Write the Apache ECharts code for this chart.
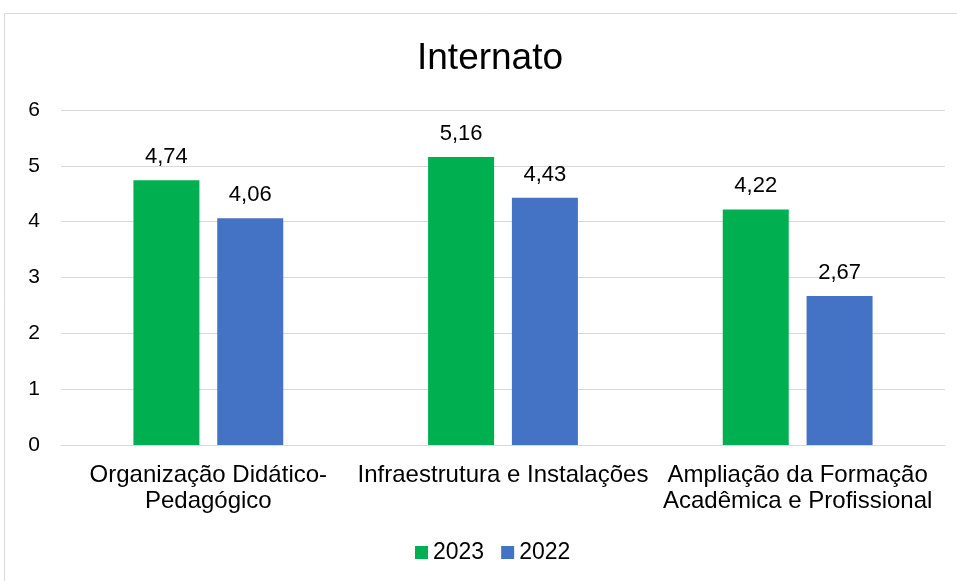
<!DOCTYPE html>
<html>
<head>
<meta charset="utf-8">
<script src="https://cdn.jsdelivr.net/npm/echarts@6/dist/echarts.min.js"></script>
<style>html,body{margin:0;padding:0;background:#fff}#c{width:957px;height:581px}</style>
</head>
<body>
<div id="c"></div>
<script>
const categories = ["Organização Didático-\nPedagógico", "Infraestrutura e Instalações", "Ampliação da Formação\nAcadêmica e Profissional"];
const values2023 = [4.74, 5.16, 4.22];
const values2022 = [4.06, 4.43, 2.67];
const seriesNames = ["2023", "2022"];
const yTicks = [0, 1, 2, 3, 4, 5, 6];

const font = "'Liberation Sans', Arial, sans-serif";
const chart = echarts.init(document.getElementById('c'), null, {renderer: 'canvas'});
const fmt = p => p.value.toFixed(2).replace('.', ',');
chart.setOption({
  animation: false,
  backgroundColor: '#fff',
  graphic: [{
    type: 'rect', shape: {x: 4.5, y: 13.5, width: 960, height: 580},
    style: {fill: 'none', stroke: '#D9D9D9', lineWidth: 1}, silent: true
  }],
  title: {
    text: 'Internato', left: 412, top: 35,
    textStyle: {fontFamily: font, fontSize: 37, fontWeight: 'normal', color: '#000'}
  },
  legend: {
    bottom: 12, left: 410, itemWidth: 13, itemHeight: 13, itemGap: 17,
    icon: 'rect',
    textStyle: {fontFamily: font, fontSize: 23, color: '#000'},
    data: seriesNames
  },
  grid: {left: 61, right: 12, top: 110, bottom: 136, containLabel: false},
  xAxis: {
    type: 'category', data: categories,
    axisLine: {lineStyle: {color: '#D9D9D9', width: 1}},
    axisTick: {show: false},
    axisLabel: {fontFamily: font, fontSize: 24, color: '#000', lineHeight: 26, margin: 17, interval: 0}
  },
  yAxis: {
    type: 'value', min: 0, max: 6, interval: 1,
    axisLine: {show: false}, axisTick: {show: false},
    axisLabel: {fontFamily: font, fontSize: 21, color: '#000', margin: 21,
      formatter: v => yTicks.includes(v) ? String(v) : ''},
    splitLine: {lineStyle: {color: '#D9D9D9', width: 1}}
  },
  series: [
    {name: seriesNames[0], type: 'bar', data: values2023, barWidth: 66, barGap: '27%',
     itemStyle: {color: '#00B050'},
     label: {show: true, position: 'top', distance: 12, formatter: fmt, fontFamily: font, fontSize: 22, color: '#000'}},
    {name: seriesNames[1], type: 'bar', data: values2022, barWidth: 66,
     itemStyle: {color: '#4472C4'},
     label: {show: true, position: 'top', distance: 12, formatter: fmt, fontFamily: font, fontSize: 22, color: '#000'}}
  ]
});
</script>
</body>
</html>
